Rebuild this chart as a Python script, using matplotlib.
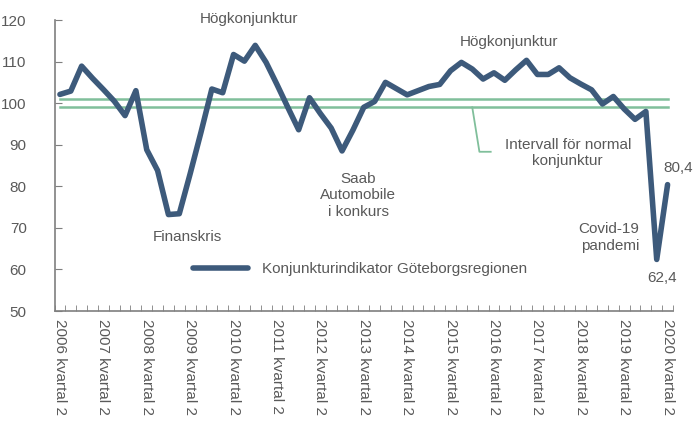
import matplotlib.pyplot as plt

# Konjunkturindikator Göteborgsregionen, kvartal 2006 Q2 - 2020 Q2
years = list(range(2006, 2021))
tick_labels = ['{} kvartal 2'.format(y) for y in years]
values = [102.1, 102.9, 108.9, 106.0, 103.3, 100.5, 97.0, 103.0,
          88.8, 83.8, 73.2, 73.4, 83.0, 93.0, 103.4, 102.5,
          111.7, 110.1, 113.9, 109.8, 104.5, 99.0, 93.6, 101.3,
          97.5, 94.0, 88.5, 93.5, 99.0, 100.4, 105.0, 103.5,
          102.0, 103.0, 104.0, 104.5, 107.8, 109.8, 108.2, 105.8,
          107.3, 105.5, 108.0, 110.3, 106.9, 106.9, 108.5, 106.1,
          104.6, 103.2, 99.8, 101.6, 98.6, 96.1, 98.0, 62.4, 80.4]
normal_low = 99
normal_high = 101

plt.rcParams['font.family'] = ['Liberation Sans', 'DejaVu Sans']
grey = '#595959'
blue = '#3D5A7B'
green = '#80BF9B'

fig = plt.figure(figsize=(6.95, 4.21), dpi=100)
ax = fig.add_axes([54.5 / 695, 110 / 421, 618.5 / 695, 291 / 421])

x = list(range(len(values)))
ax.plot([0, len(values) - 1], [normal_high, normal_high], color=green, lw=1.8, zorder=1)
ax.plot([0, len(values) - 1], [normal_low, normal_low], color=green, lw=1.8, zorder=1)
ax.plot(x, values, color=blue, lw=4.0, solid_joinstyle='round', solid_capstyle='round',
        zorder=2, label='Konjunkturindikator Göteborgsregionen')

ax.set_xlim(-0.5, len(values) - 0.5)
ax.set_ylim(50, 120)
ax.set_yticks(range(50, 121, 10))
ax.set_xticks(range(0, len(values), 4))
ax.set_xticklabels(tick_labels, rotation=270, fontsize=11, color=grey)
ax.set_xticks([i + 0.5 for i in range(-1, len(values))], minor=True)
ax.tick_params(axis='x', which='major', length=0, pad=6)
ax.tick_params(axis='x', which='minor', direction='in', length=4, color='#7f7f7f')
ax.tick_params(axis='y', direction='in', length=5, color='#7f7f7f', labelsize=11,
               labelcolor=grey, pad=20)
for lab in ax.get_yticklabels():
    lab.set_horizontalalignment('right')

for s in ['top', 'right']:
    ax.spines[s].set_visible(False)
for s in ['left', 'bottom']:
    ax.spines[s].set_color('#7f7f7f')
    ax.spines[s].set_linewidth(1.2)

txt = dict(fontsize=11, color=grey, ha='center', va='center')
ax.text(17.4, 120.2, 'Högkonjunktur', clip_on=False, **txt)
ax.text(11.7, 67.9, 'Finanskris', **txt)
ax.text(27.5, 77.8, 'Saab\nAutomobile\ni konkurs', linespacing=1.2, **txt)
ax.text(41.4, 114.6, 'Högkonjunktur', **txt)
ax.text(46.8, 88.0, 'Intervall för normal\nkonjunktur', linespacing=1.2, **txt)
ax.plot([38.0, 38.66, 39.7], [99.0, 88.3, 88.3], color=green, lw=1.3)
ax.text(53.4, 67.7, 'Covid-19\npandemi', fontsize=11, color=grey, ha='right',
        va='center', linespacing=1.2)
ax.text(55.5, 58.0, '62,4', **txt)
ax.text(57.0, 84.3, '80,4', clip_on=False, **txt)

ax.legend(loc='center left', bbox_to_anchor=(0.224, 0.144), frameon=False,
          borderpad=0, borderaxespad=0, handlelength=3.6, handletextpad=0.9,
          prop={'size': 11}, labelcolor=grey)

fig.savefig('out.png', dpi=100)
